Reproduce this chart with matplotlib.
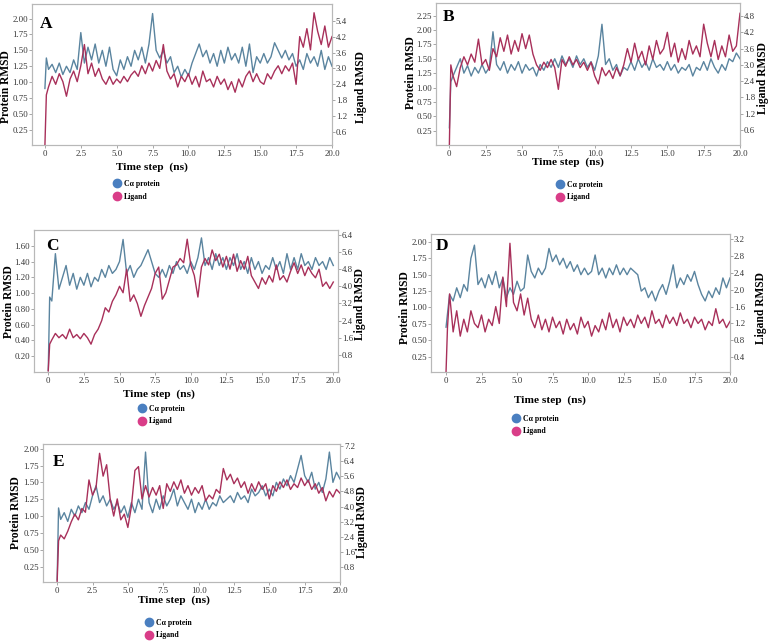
import numpy as np
import matplotlib
matplotlib.use('Agg')
import matplotlib.pyplot as plt
from matplotlib.lines import Line2D

plt.rcParams['font.family'] = ['Liberation Serif', 'DejaVu Serif']

W, H = 770, 643

# time axis of the trajectories (ns)
time_ns = np.concatenate(([0.0, 0.1], np.arange(0.25, 20.01, 0.25)))

# values, 10 per row
a_protein = [0.9, 1.38, 1.2, 1.28, 1.15, 1.3, 1.12, 1.25, 1.15, 1.35,
             1.2, 1.78, 1.3, 1.55, 1.35, 1.6, 1.3, 1.5, 1.25, 1.55,
             1.2, 1.1, 1.35, 1.2, 1.4, 1.25, 1.5, 1.35, 1.55, 1.3,
             1.6, 2.08, 1.5, 1.38, 1.5, 1.3, 1.4, 1.15, 1.25, 1.08,
             1.2, 1.1, 1.3, 1.45, 1.6, 1.4, 1.5, 1.3, 1.45, 1.25,
             1.5, 1.3, 1.55, 1.35, 1.45, 1.3, 1.55, 1.25, 1.6, 1.15,
             1.4, 1.3, 1.45, 1.3, 1.4, 1.62, 1.5, 1.38, 1.5, 1.35,
             1.45, 1.25, 1.35, 1.2, 1.45, 1.3, 1.4, 1.25, 1.5, 1.2,
             1.4, 1.25]
a_ligand = [0.1, 2.0, 2.3, 2.7, 2.4, 2.8, 2.5, 1.95, 2.6, 2.9,
            2.5, 3.1, 3.9, 2.8, 3.2, 2.7, 3.0, 2.6, 2.4, 2.7,
            2.4, 2.6, 2.45, 2.7, 2.5, 2.75, 2.9, 2.7, 3.1, 2.8,
            3.2, 2.9, 3.3, 3.0, 3.9, 2.9, 2.6, 2.8, 2.3, 2.7,
            2.5, 2.8, 2.4, 2.7, 2.3, 2.9, 2.5, 2.6, 2.3, 2.7,
            2.4, 2.6, 2.2, 2.5, 2.1, 2.6, 2.3, 2.7, 2.9, 2.5,
            2.8, 2.5, 2.4, 2.8, 2.6, 2.9, 3.1, 2.8, 3.1, 2.9,
            3.2, 2.4, 4.2, 3.8, 4.5, 3.7, 5.1, 4.4, 3.9, 4.6,
            3.8, 4.2]

b_protein = [0.3, 1.1, 1.2, 1.35, 1.5, 1.25, 1.38, 1.2, 1.35, 1.25,
             1.4, 1.25, 1.35, 1.97, 1.4, 1.3, 1.45, 1.25, 1.4, 1.3,
             1.45, 1.25, 1.4, 1.3, 1.35, 1.2, 1.4, 1.3, 1.45, 1.35,
             1.5, 1.35, 1.55, 1.4, 1.5, 1.35, 1.55, 1.4, 1.5, 1.35,
             1.45, 1.3, 1.55, 2.1, 1.4, 1.5, 1.3, 1.4, 1.2, 1.35,
             1.3, 1.45, 1.3, 1.5, 1.35, 1.45, 1.3, 1.5, 1.35, 1.4,
             1.3, 1.45, 1.3, 1.4, 1.25, 1.35, 1.3, 1.4, 1.2, 1.35,
             1.3, 1.45, 1.3, 1.5, 1.35, 1.25, 1.4, 1.3, 1.5, 1.45,
             1.6, 1.5]
b_ligand = [0.05, 3.0, 2.6, 2.2, 2.9, 3.3, 3.0, 3.4, 3.1, 3.95,
            3.0, 3.2, 2.8, 3.6, 3.3, 4.0, 3.5, 4.1, 3.4, 3.9,
            3.5, 4.15, 3.6, 4.1, 3.4, 3.0, 2.8, 3.1, 2.9, 3.2,
            2.9, 2.1, 3.2, 2.95, 3.3, 3.0, 3.2, 2.9, 3.1, 2.8,
            3.1, 2.6, 2.3, 2.9, 2.6, 2.8, 2.5, 2.9, 2.6, 3.0,
            3.6, 3.1, 3.8, 3.2, 3.5, 3.0, 3.7, 3.2, 3.9, 3.4,
            3.6, 4.2, 3.3, 3.8, 3.1, 3.6, 3.2, 3.9, 3.4, 3.7,
            3.3, 4.5, 3.8, 3.3, 3.9, 3.2, 3.7, 3.3, 4.1, 3.5,
            3.7, 4.9]

c_protein = [0.02, 0.95, 0.9, 1.5, 1.05, 1.2, 1.35, 1.1, 1.25, 1.05,
             1.2, 1.1, 1.25, 1.08, 1.2, 1.15, 1.3, 1.2, 1.35, 1.25,
             1.3, 1.4, 1.68, 1.25, 1.35, 1.2, 1.3, 1.35, 1.45, 1.55,
             1.4, 1.25, 1.2, 1.3, 1.2, 1.35, 1.25, 1.4, 1.3, 1.35,
             1.25, 1.4, 1.3, 1.45, 1.7, 1.35, 1.45, 1.3, 1.5, 1.35,
             1.45, 1.3, 1.45, 1.35, 1.5, 1.3, 1.4, 1.25, 1.45, 1.3,
             1.4, 1.25, 1.35, 1.3, 1.45, 1.3, 1.4, 1.25, 1.5, 1.3,
             1.45, 1.3, 1.5, 1.35, 1.4, 1.3, 1.45, 1.35, 1.4, 1.3,
             1.45, 1.35]
c_ligand = [0.05, 1.3, 1.5, 1.8, 1.6, 1.75, 1.55, 2.0, 1.6, 1.75,
            1.55, 1.8, 1.6, 1.3, 1.75, 2.0, 2.4, 3.0, 2.8, 3.3,
            3.6, 4.0, 3.7, 4.8, 3.3, 3.6, 3.2, 2.6, 3.1, 3.5,
            3.9, 4.6, 4.9, 3.4, 3.7, 4.3, 4.9, 5.0, 5.3, 5.1,
            6.2, 5.0, 4.5, 3.5, 4.9, 5.3, 5.0, 5.7, 5.2, 5.5,
            4.9, 5.4, 4.8, 5.5, 4.7, 5.2, 4.8, 5.4, 4.5, 4.2,
            3.9, 4.4, 4.1, 4.5, 4.2, 5.0, 4.3, 4.5, 4.2, 4.7,
            5.1, 4.6, 5.0, 4.5, 4.9, 4.6, 4.4, 4.8, 4.0, 4.2,
            3.9, 4.2]

d_protein = [0.7, 0.9, 1.2, 1.1, 1.3, 1.15, 1.35, 1.25, 1.75, 1.95,
             1.35, 1.45, 1.3, 1.5, 1.35, 1.55, 1.3, 1.45, 1.15, 1.3,
             1.2, 1.4, 1.25, 1.3, 1.8, 1.55, 1.45, 1.6, 1.5, 1.6,
             1.9, 1.7, 1.8, 1.65, 1.75, 1.6, 1.7, 1.55, 1.65, 1.5,
             1.6, 1.5, 1.55, 1.8, 1.5, 1.6, 1.45, 1.6, 1.5, 1.65,
             1.5, 1.6, 1.5, 1.6, 1.55, 1.5, 1.25, 1.3, 1.15, 1.25,
             1.1, 1.25, 1.35, 1.2, 1.4, 1.65, 1.3, 1.45, 1.35, 1.5,
             1.4, 1.55, 1.35, 1.2, 1.1, 1.25, 1.15, 1.3, 1.2, 1.45,
             1.3, 1.45]
d_ligand = [0.06, 1.1, 1.9, 1.0, 1.5, 0.9, 1.3, 1.0, 1.5, 1.2,
            1.1, 1.4, 1.0, 1.3, 1.15, 1.6, 1.2, 2.3, 1.6, 3.1,
            1.7, 1.5, 1.9, 1.4, 1.8, 1.3, 1.1, 1.4, 1.05, 1.3,
            1.0, 1.35, 1.1, 1.25, 0.95, 1.3, 1.05, 1.2, 0.95, 1.35,
            1.1, 1.25, 0.9, 1.15, 1.0, 1.3, 1.05, 1.45, 1.1, 1.3,
            1.0, 1.35, 1.15, 1.3, 1.1, 1.4, 1.2, 1.35, 1.1, 1.5,
            1.2, 1.3, 1.1, 1.4, 1.2, 1.35, 1.15, 1.45, 1.2, 1.3,
            1.1, 1.35, 1.2, 1.3, 1.05, 1.25, 1.15, 1.55, 1.2, 1.3,
            1.1, 1.25]

e_protein = [0.05, 1.12, 0.95, 1.05, 0.92, 1.1, 1.0, 1.15, 1.05, 1.2,
             1.1, 1.3, 1.45, 1.2, 1.3, 1.15, 1.25, 1.1, 1.2, 1.05,
             1.15, 0.98, 1.2, 1.05, 1.25, 1.1, 1.95, 1.2, 1.05, 1.25,
             1.1, 1.3, 1.15, 1.25, 1.4, 1.15, 1.3, 1.2, 1.1, 1.25,
             1.05, 1.2, 1.1, 1.25, 1.1, 1.2, 1.15, 1.3, 1.2, 1.25,
             1.3, 1.2, 1.35, 1.25, 1.3, 1.2, 1.4, 1.3, 1.35, 1.45,
             1.3, 1.4, 1.3, 1.5, 1.4, 1.55, 1.45, 1.6, 1.5, 1.7,
             1.9, 1.6, 1.5, 1.65, 1.4, 1.5, 1.35, 1.55, 1.95, 1.5,
             1.65, 1.55]
e_ligand = [0.05, 2.2, 2.5, 2.3, 2.7, 3.2, 3.6, 3.3, 3.9, 3.7,
            5.4, 4.6, 5.0, 6.8, 5.6, 6.2, 4.4, 3.5, 4.4, 3.3,
            3.6, 2.9, 4.0, 5.9, 6.1, 4.4, 5.1, 4.5, 5.0, 4.6,
            5.1, 3.9, 5.2, 4.8, 5.3, 4.9, 5.4, 4.7, 5.1, 4.6,
            5.0, 4.7, 5.1, 4.3, 4.6, 4.4, 4.9, 4.7, 6.0, 5.4,
            5.7, 5.2, 5.5, 5.0, 5.3, 4.7, 5.2, 4.8, 5.3, 4.9,
            5.2, 4.4, 5.1, 4.8, 5.3, 5.0, 5.4, 4.9, 5.2, 5.0,
            5.5, 5.1, 5.4, 4.9, 5.2, 4.7, 5.0, 4.3, 4.8, 4.5,
            4.9, 4.7]

# tick values / labels
x_ticks = [0, 2.5, 5.0, 7.5, 10.0, 12.5, 15.0, 17.5, 20.0]
x_labels = ['0', '2.5', '5.0', '7.5', '10.0', '12.5', '15.0', '17.5', '20.0']
prot_ticks_a = [0.25, 0.5, 0.75, 1.0, 1.25, 1.5, 1.75, 2.0]
prot_ticks_b = [0.25, 0.5, 0.75, 1.0, 1.25, 1.5, 1.75, 2.0, 2.25]
prot_ticks_c = [0.2, 0.4, 0.6, 0.8, 1.0, 1.2, 1.4, 1.6]
lig_ticks_a = [0.6, 1.2, 1.8, 2.4, 3.0, 3.6, 4.2, 4.8]
lig_labels_a = ['0.6', '1.2', '1.8', '2.4', '3.0', '3.6', '4.2', '5.4']
lig_ticks_b = [0.6, 1.2, 1.8, 2.4, 3.0, 3.6, 4.2, 4.8]
lig_ticks_c = [0.8, 1.6, 2.4, 3.2, 4.0, 4.8, 5.6, 6.4]
lig_ticks_d = [0.4, 0.8, 1.2, 1.6, 2.0, 2.4, 2.8, 3.2]
lig_ticks_e = [0.8, 1.6, 2.4, 3.2, 4.0, 4.8, 5.6, 6.4, 7.2]

BLUE = '#5a849f'
RED = '#a8305a'
LEG_BLUE = '#4a7fc0'
LEG_PINK = '#d93d88'
SPINE = '#b8b8b8'
TXT = '#333333'


def fx(x):
    return x / W


def fy(y):
    return 1 - y / H


fig = plt.figure(figsize=(W / 100, H / 100), dpi=100)

panels = [
    dict(letter='A', box=(32, 4, 332, 145), xlim=(-0.9, 20),
         yp=(0.01, 2.23), yl=(0.11, 5.43), prot=a_protein, lig=a_ligand,
         pt=prot_ticks_a, lt=lig_ticks_a, ll=lig_labels_a,
         letter_xy=(40, 24), tl=(152, 167), yl_l=(6, 87), yl_r=(361, 87),
         leg=(117, 184, 197)),
    dict(letter='B', box=(436, 3, 740, 145), xlim=(-0.92, 20),
         yp=(0.0, 2.47), yl=(0.05, 5.28), prot=b_protein, lig=b_ligand,
         pt=prot_ticks_b, lt=lig_ticks_b, ll=None,
         letter_xy=(443, 17), tl=(568, 162), yl_l=(411, 73), yl_r=(763, 78),
         leg=(560, 184, 198)),
    dict(letter='C', box=(34, 230, 338, 372), xlim=(-1.0, 20.33),
         yp=(0.0, 1.8), yl=(0.0, 6.63), prot=c_protein, lig=c_ligand,
         pt=prot_ticks_c, lt=lig_ticks_c, ll=None,
         letter_xy=(46, 246), tl=(159, 394), yl_l=(9, 302), yl_r=(360, 304),
         leg=(142, 408, 422)),
    dict(letter='D', box=(431, 234, 730, 372), xlim=(-1.06, 20),
         yp=(0.017, 2.12), yl=(0.05, 3.32), prot=d_protein, lig=d_ligand,
         pt=prot_ticks_a, lt=lig_ticks_d, ll=None,
         letter_xy=(436, 246), tl=(550, 400), yl_l=(405, 308), yl_r=(761, 308),
         leg=(516, 418, 432)),
    dict(letter='E', box=(43, 444, 340, 582), xlim=(-1.0, 20),
         yp=(0.02, 2.07), yl=(0.03, 7.29), prot=e_protein, lig=e_ligand,
         pt=prot_ticks_a, lt=lig_ticks_e, ll=None,
         letter_xy=(53, 462), tl=(174, 600), yl_l=(16, 513), yl_r=(362, 522),
         leg=(149, 622, 636)),
]

for p in panels:
    l, t, r, b = p['box']
    ax = fig.add_axes([fx(l), fy(b), (r - l) / W, (b - t) / H])
    ax2 = ax.twinx()
    ax.plot(time_ns, p['prot'], color=BLUE, lw=1.0)
    ax2.plot(time_ns, p['lig'], color=RED, lw=1.0)

    ax.set_xlim(*p['xlim'])
    ax.set_ylim(*p['yp'])
    ax2.set_ylim(*p['yl'])

    ax.set_xticks(x_ticks)
    ax.set_xticklabels(x_labels)
    ax.set_yticks(p['pt'])
    ax.set_yticklabels(['%.2f' % v for v in p['pt']])
    ax2.set_yticks(p['lt'])
    ax2.set_yticklabels(p['ll'] if p['ll'] else ['%.1f' % v for v in p['lt']])

    for a in (ax, ax2):
        for s in a.spines.values():
            s.set_color(SPINE)
            s.set_linewidth(0.8)
        a.tick_params(axis='y', length=2, width=0.6, color='#999999',
                      labelsize=6.3, labelcolor=TXT, pad=0.8)
    ax.tick_params(axis='x', length=2.5, width=0.6, color='#999999',
                   labelsize=6.3, labelcolor=TXT, pad=1.0)

    fig.text(fx(p['letter_xy'][0]), fy(p['letter_xy'][1]), p['letter'],
             fontsize=12.5, fontweight='bold', ha='left', va='center')
    fig.text(fx(p['tl'][0]), fy(p['tl'][1]), 'Time step  (ns)',
             fontsize=8.2, fontweight='bold', ha='center', va='center')
    fig.text(fx(p['yl_l'][0]), fy(p['yl_l'][1]), 'Protein RMSD',
             fontsize=8.3, fontweight='bold', rotation=90,
             ha='center', va='center')
    fig.text(fx(p['yl_r'][0]), fy(p['yl_r'][1]), 'Ligand RMSD',
             fontsize=8.3, fontweight='bold', rotation=90,
             ha='center', va='center')

    mx, y1, y2 = p['leg']
    handles = [Line2D([], [], ls='', marker='o', markersize=6,
                      color=LEG_BLUE),
               Line2D([], [], ls='', marker='o', markersize=6,
                      color=LEG_PINK)]
    fig.legend(handles, ['C\u03b1 protein', 'Ligand'], loc='center left',
               bbox_to_anchor=(fx(mx - 4), fy((y1 + y2) / 2)),
               frameon=False, borderpad=0, borderaxespad=0,
               handlelength=1.0, handletextpad=0.4, labelspacing=0.6,
               prop={'weight': 'bold', 'size': 5.6})

fig.savefig('out.png', dpi=100)
